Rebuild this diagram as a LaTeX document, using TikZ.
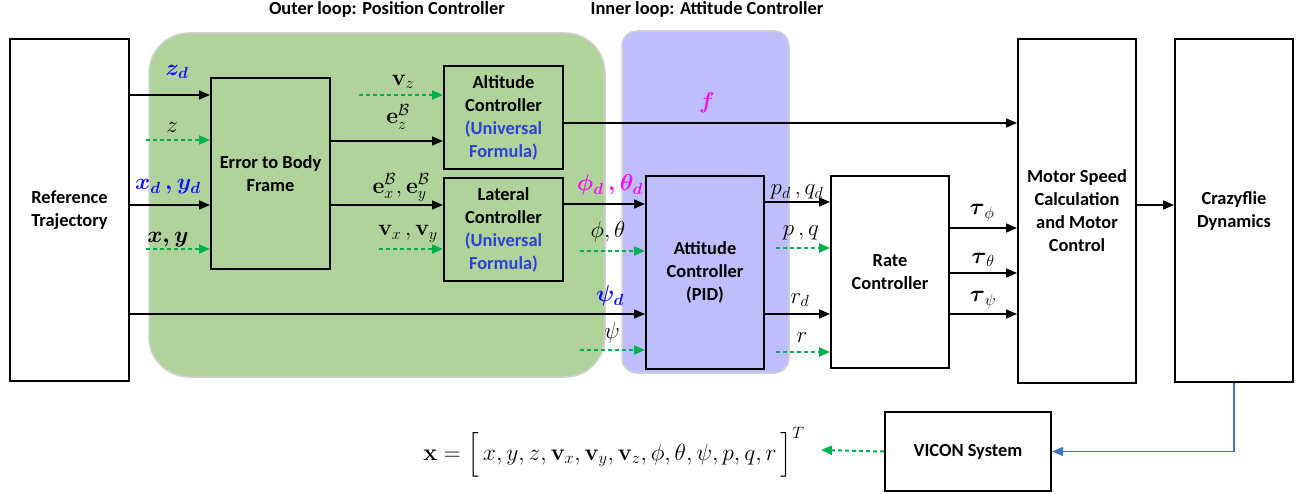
\RequirePackage{fix-cm}
\documentclass[tikz,border=0pt]{standalone}
\usepackage{amsmath}
\usepackage[no-math]{fontspec}
\setmainfont{Carlito}
\usetikzlibrary{arrows.meta}
\definecolor{gfill}{HTML}{B0D39C}
\definecolor{pfill}{HTML}{BEBEFC}
\definecolor{gdash}{HTML}{00B050}
\definecolor{lblue}{HTML}{1010FF}
\definecolor{mag}{HTML}{F010F0}
\definecolor{ublue}{HTML}{2F3FD0}
\definecolor{vblue}{HTML}{4472C4}
\begin{document}
\begin{tikzpicture}[x=1pt,y=-1pt,
 blk/.style={draw, line width=2pt, inner sep=0pt, align=center, anchor=north west, font=\fontsize{18.4}{23}\selectfont\bfseries},
 sig/.style={line width=1.6pt, -{Triangle[length=11pt,width=9pt]}},
 meas/.style={gdash, line width=2pt, dash pattern=on 4pt off 3pt, -{Triangle[length=11pt,width=9pt]}},
 lbl/.style={inner sep=0pt, font=\fontsize{23}{25}\selectfont},
 ttl/.style={inner sep=0pt, anchor=base, font=\fontsize{18.4}{23}\selectfont\bfseries},
 region/.style={draw=black!18, line width=1.5pt},
]
\useasboundingbox (0,0) rectangle (1301,494);
% regions
\filldraw[region, fill=gfill, rounded corners=40pt] (149,33) rectangle (605,377);
\filldraw[region, fill=pfill, rounded corners=15pt] (622,31) rectangle (789,373);
\node[ttl] (tout) at (387,15) {Outer loop: Position Controller};
\node[ttl] (tin) at (707,15) {Inner loop: Attitude Controller};
% blocks
\node[blk, fill=white, minimum width=119pt, minimum height=342pt] (ref) at (9,38) {Reference\\Trajectory};
\node[blk, minimum width=119pt, minimum height=191pt] (err) at (210,77) {Error to Body\\Frame};
\node[blk, minimum width=119pt, minimum height=103pt] (alt) at (443,65) {Altitude\\Controller\\\textcolor{ublue}{(Universal}\\\textcolor{ublue}{Formula)}};
\node[blk, minimum width=119pt, minimum height=103pt] (lat) at (443,177) {Lateral\\Controller\\\textcolor{ublue}{(Universal}\\\textcolor{ublue}{Formula)}};
\node[blk, fill=pfill, minimum width=118pt, minimum height=193pt] (att) at (645,175) {Attitude\\Controller\\(PID)};
\node[blk, fill=white, minimum width=118pt, minimum height=192pt] (rate) at (830,175) {Rate\\Controller};
\node[blk, fill=white, minimum width=118pt, minimum height=344pt] (mot) at (1017,38) {Motor Speed\\Calculation\\and Motor\\Control};
\node[blk, fill=white, minimum width=118pt, minimum height=343pt] (cf) at (1174,38) {Crazyflie\\Dynamics};
\node[blk, fill=white, minimum width=166pt, minimum height=79pt] (vicon) at (884,411) {VICON System};
% free ends
\coordinate (cz) at (146,140);
\coordinate (cxy) at (146,249);
\coordinate (cvz) at (359,95);
\coordinate (cvxy) at (379,249);
\coordinate (cpt) at (580,251);
\coordinate (cpsi) at (580,350);
\coordinate (cpq) at (776,248);
\coordinate (cr) at (776,352);
\coordinate (ceq) at (821,450);
% connectors
\draw[sig] (ref.east |- 0,95) -- (err.west |- 0,95);
\draw[meas] (cz) -- (err.west |- cz);
\draw[sig] (ref.east |- 0,205) -- (err.west |- 0,205);
\draw[meas] (cxy) -- (err.west |- cxy);
\draw[sig] (ref.east |- 0,314) -- (att.west |- 0,314);
\draw[meas] (cvz) -- (alt.west |- cvz);
\draw[sig] (err.east |- 0,141) -- (alt.west |- 0,141);
\draw[sig] (err.east |- 0,205) -- (lat.west |- 0,205);
\draw[meas] (cvxy) -- (lat.west |- cvxy);
\draw[sig] (alt.east |- 0,123) -- (mot.west |- 0,123);
\draw[sig] (lat.east |- 0,204) -- (att.west |- 0,204);
\draw[meas] (cpt) -- (att.west |- cpt);
\draw[meas] (cpsi) -- (att.west |- cpsi);
\draw[sig] (att.east |- 0,202) -- (rate.west |- 0,202);
\draw[meas] (cpq) -- (rate.west |- cpq);
\draw[sig] (att.east |- 0,314) -- (rate.west |- 0,314);
\draw[meas] (cr) -- (rate.west |- cr);
\draw[sig] (rate.east |- 0,228) -- (mot.west |- 0,228);
\draw[sig] (rate.east |- 0,273) -- (mot.west |- 0,273);
\draw[sig] (rate.east |- 0,314) -- (mot.west |- 0,314);
\draw[sig] (mot.east |- 0,205) -- (cf.west |- 0,205);
\draw[vblue, line width=1.6pt, -{Triangle[length=11pt,width=9pt]}] (cf.south) |- (vicon.east);
\draw[meas] (vicon.west) -- (ceq);
% labels
\node[lbl, text=lblue] (lzd) at (177,72) {$\boldsymbol{z_d}$};
\node[lbl] (lz) at (172,128) {$z$};
\node[lbl, text=lblue] (lxyd) at (168,187) {$\boldsymbol{x_d\,,y_d}$};
\node[lbl] (lxy) at (168,240) {$\boldsymbol{x, y}$};
\node[lbl] (lvz) at (403,82) {$\mathbf{v}_z$};
\node[lbl] (lez) at (398,117) {$\mathbf{e}_z^{\mathcal{B}}$};
\node[lbl] (lexy) at (401,188) {$\mathbf{e}_x^{\mathcal{B}},\mathbf{e}_y^{\mathcal{B}}$};
\node[lbl] (lvxy) at (408,234) {$\mathbf{v}_x\,,\mathbf{v}_y$};
\node[lbl, text=mag] (lf) at (707,103) {$\boldsymbol{f}$};
\node[lbl, text=mag] (lptd) at (610,185) {$\boldsymbol{\phi_d\,,\theta_d}$};
\node[lbl] (lpt) at (608,232) {$\phi,\theta$};
\node[lbl, text=lblue] (lpsid) at (610,296) {$\boldsymbol{\psi_d}$};
\node[lbl] (lpsi) at (612,333) {$\psi$};
\node[lbl] (lpqd) at (797,192) {$p_d\,,q_d$};
\node[lbl] (lpq) at (801,233) {$p\,,q$};
\node[lbl] (lrd) at (800,300) {$r_d$};
\node[lbl] (lr) at (802,338) {$r$};
\node[lbl] (ltp) at (982,213) {$\boldsymbol{\tau}_{\phi}$};
\node[lbl] (ltt) at (983,260) {$\boldsymbol{\tau}_{\theta}$};
\node[lbl] (lts) at (983,300) {$\boldsymbol{\tau}_{\psi}$};
\node[lbl, font=\fontsize{23.5}{26}\selectfont] (eq) at (614,452) {$\mathbf{x}=\Big[\,x, y, z, \mathbf{v}_x, \mathbf{v}_y, \mathbf{v}_z, \phi,\theta,\psi, p,q,r\,\Big]^T$};
\end{tikzpicture}
\end{document}
